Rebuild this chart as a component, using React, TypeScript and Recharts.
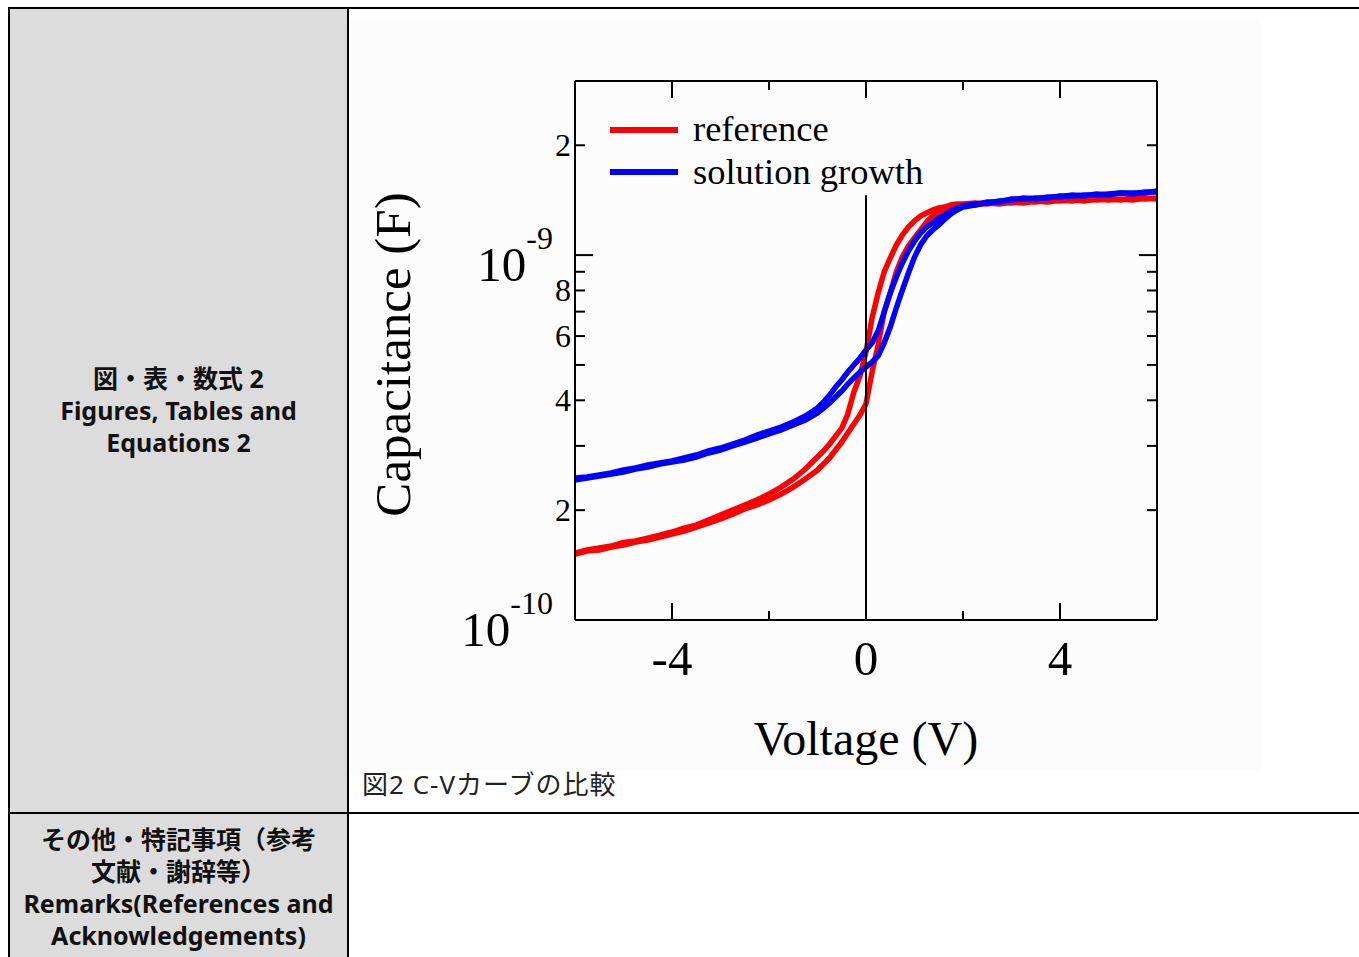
import React from 'react';
import { LineChart, Line, XAxis, YAxis, ReferenceLine, Legend } from 'recharts';

// ---- data (capacitance in pF, voltage in V) ----
const voltages = [
  -6, -5.75, -5.5, -5.25, -5, -4.75, -4.5, -4.25, -4, -3.75, -3.5, -3.25, -3, -2.75, -2.5, -2.25, -2, -1.75, -1.5, -1.25, -1,
  -0.875, -0.75, -0.625, -0.5, -0.375, -0.25, -0.125, 0, 0.125, 0.25, 0.375, 0.5, 0.625, 0.75, 0.875, 1, 1.125, 1.25, 1.375, 1.5, 1.625, 1.75, 1.875, 2,
  2.25, 2.5, 2.75, 3, 3.25, 3.5, 3.75, 4, 4.25, 4.5, 4.75, 5, 5.25, 5.5, 5.75, 6,
];

const referenceSweepAPf = [
  152.6, 155.5, 157.5, 159.5, 163.2, 164.6, 167.7, 170.9, 174.2, 178.6, 182.0, 187.9, 193.9, 200.2, 206.6, 213.2, 221.4, 231.4, 243.4, 259.2, 279.6,
  290.5, 303.6, 319.2, 335.8, 366.8, 421.5, 466.2, 542.5, 672.3, 787.2, 898.8, 981.8, 1065.7, 1135.1, 1194.1, 1240.1, 1279.7, 1304.3, 1329.2, 1346.1, 1354.6, 1371.7, 1380.4, 1380.4,
  1389.2, 1380.5, 1398.1, 1389.2, 1406.9, 1398.1, 1415.8, 1406.9, 1415.8, 1406.9, 1424.7, 1415.8, 1424.7, 1415.8, 1433.7, 1424.7,
];

const referenceSweepBPf = [
  151.6, 154.5, 155.5, 158.5, 160.5, 163.6, 165.6, 168.8, 172.0, 175.3, 179.8, 184.4, 189.1, 195.1, 201.5, 206.6, 213.2, 221.4, 231.4, 243.4, 257.6,
  267.5, 277.9, 292.3, 307.4, 325.4, 344.4, 364.5, 390.7, 478.2, 567.0, 698.3, 787.2, 898.8, 988.1, 1059.0, 1113.9, 1171.6, 1232.2, 1279.7, 1312.6, 1337.6, 1354.6, 1363.1, 1371.7,
  1371.7, 1389.2, 1380.5, 1398.1, 1389.2, 1406.9, 1398.1, 1415.8, 1406.9, 1424.7, 1415.8, 1424.7, 1415.8, 1433.7, 1424.7, 1433.7,
];

const solutionSweepAPf = [
  245.0, 246.5, 249.6, 252.8, 257.6, 260.9, 265.9, 269.3, 272.7, 277.9, 283.2, 290.5, 296.0, 303.6, 311.3, 321.3, 329.5, 337.9, 348.8, 362.2, 380.9,
  395.7, 413.5, 435.0, 454.6, 478.2, 499.8, 522.3, 549.4, 574.2, 619.4, 698.3, 787.2, 871.0, 951.3, 1026.2, 1093.0, 1149.6, 1194.1, 1224.5, 1263.7, 1287.8, 1320.8, 1346.1, 1363.1,
  1380.5, 1389.2, 1406.9, 1415.8, 1433.7, 1424.7, 1442.8, 1442.8, 1461.1, 1451.9, 1470.3, 1461.1, 1479.6, 1470.3, 1489.0, 1489.0,
];

const solutionSweepBPf = [
  241.9, 245.0, 248.0, 251.2, 254.4, 259.2, 262.5, 267.5, 271.0, 274.4, 279.6, 286.9, 292.3, 299.8, 307.4, 315.3, 323.4, 331.6, 342.2, 353.2, 369.2,
  380.9, 393.2, 408.3, 424.1, 443.2, 460.4, 478.2, 493.5, 509.3, 529.0, 574.2, 635.2, 716.2, 802.3, 893.2, 988.1, 1065.7, 1128.0, 1171.6, 1209.3, 1255.8, 1296.1, 1329.2, 1354.6,
  1371.7, 1398.1, 1398.1, 1424.7, 1424.7, 1433.7, 1433.7, 1451.9, 1451.9, 1461.1, 1461.1, 1470.3, 1479.6, 1479.6, 1479.6, 1498.4,
];

const seriesNames = ['reference', 'solution growth'];
const seriesColors = ['#ff0000', '#0000ff'];

const xTicks = [-4, -2, 0, 2, 4];
const xTickLabels = ['-4', '', '0', '', '4'];

const yTicks = [100, 200, 300, 400, 500, 600, 700, 800, 900, 1000, 2000];
const yTickMantissa = ['10', '2', '', '4', '', '6', '', '8', '', '10', '2'];
const yTickExponent = ['-10', '', '', '', '', '', '', '', '', '-9', ''];

const xDomain = [-6, 6];
const yDomain = [100, 3000];
const zeroLineTopPf = 1460;

// ---- styling ----
const SERIF = "'Liberation Serif', 'Times New Roman', Times, serif";
const SANS_JP = "'Noto Sans', 'Noto Sans CJK JP', sans-serif";
const W = 911;
const H = 752;
const MARGIN = { top: 62, right: 103, bottom: 149, left: 224 };
const AXIS_THICK = 1;
const PLOT_H = H - MARGIN.top - MARGIN.bottom - 2 * AXIS_THICK;
const MAJOR = 17;
const MINOR = 9;

const yIndex = (v: number) => yTicks.findIndex((t) => Math.abs(t - v) / t < 1e-6);
const isDecade = (i: number) => yTickExponent[i] !== '';

const BottomTick = (props: any) => {
  const { x, y, payload } = props;
  const i = xTicks.indexOf(payload.value);
  const label = xTickLabels[i];
  const len = label ? MAJOR : MINOR;
  const yTop = y - PLOT_H;
  return (
    <g>
      <line x1={x} y1={y} x2={x} y2={y - len} stroke="#000" strokeWidth={2} />
      <line x1={x} y1={yTop} x2={x} y2={yTop + len} stroke="#000" strokeWidth={2} />
      {label ? (
        <text x={x} y={y + 55} textAnchor="middle" fontSize={49} fontFamily={SERIF} fill="#000">
          {label}
        </text>
      ) : null}
    </g>
  );
};

const LeftTick = (props: any) => {
  const { x, y, payload } = props;
  const i = yIndex(payload.value);
  if (i < 0) return null;
  const len = isDecade(i) ? 18 : 10;
  const m = yTickMantissa[i];
  const e = yTickExponent[i];
  return (
    <g>
      {i > 0 ? <line x1={x} y1={y} x2={x + len} y2={y} stroke="#000" strokeWidth={2} /> : null}
      {e ? (
        <text x={x - 22} y={y + 26} textAnchor="end" fontFamily={SERIF} fill="#000">
          <tspan fontSize={49}>{m}</tspan>
          <tspan fontSize={32} dy={-32}>{e}</tspan>
        </text>
      ) : m ? (
        <text x={x - 4} y={y + 11} textAnchor="end" fontSize={32} fontFamily={SERIF} fill="#000">
          {m}
        </text>
      ) : null}
    </g>
  );
};

const RightTick = (props: any) => {
  const { x, y, payload } = props;
  const i = yIndex(payload.value);
  if (i <= 0) return null;
  const len = isDecade(i) ? 18 : 10;
  return <line x1={x} y1={y} x2={x - len} y2={y} stroke="#000" strokeWidth={2} />;
};

const XTitle = (props: any) => {
  const vb = props.viewBox || {};
  return (
    <text x={vb.x + vb.width / 2} y={vb.y + 135} textAnchor="middle" fontSize={48} fontFamily={SERIF} fill="#000">
      Voltage (V)
    </text>
  );
};

const YTitle = (props: any) => {
  const vb = props.viewBox || {};
  const cx = vb.x + vb.width - 165;
  const cy = vb.y + vb.height / 2 + 4;
  return (
    <text
      transform={`translate(${cx},${cy}) rotate(-90)`}
      x={0}
      y={0}
      textAnchor="middle"
      fontSize={51}
      fontFamily={SERIF}
      fill="#000"
    >
      Capacitance (F)
    </text>
  );
};

const LegendContent = (props: any) => {
  const items = (props.payload || []).filter((p: any) => p.type !== 'none');
  return (
    <svg width={340} height={100} style={{ display: 'block' }}>
      {items.map((p: any, k: number) => (
        <g key={k}>
          <line x1={0} y1={30 + k * 42} x2={68} y2={30 + k * 42} stroke={p.color} strokeWidth={6} />
          <text x={83} y={41 + k * 43} fontSize={36.5} fontFamily={SERIF} fill="#000">
            {p.value}
          </text>
        </g>
      ))}
    </svg>
  );
};

const abs = (s: React.CSSProperties): React.CSSProperties => ({ position: 'absolute', ...s });

export default function App() {
  const data = voltages.map((v, i) => ({
    v,
    refA: referenceSweepAPf[i],
    refB: referenceSweepBPf[i],
    solA: solutionSweepAPf[i],
    solB: solutionSweepBPf[i],
  }));

  const leftText: React.CSSProperties = {
    fontFamily: SANS_JP,
    fontWeight: 700,
    fontSize: 25,
    lineHeight: '32px',
    color: '#111',
    textAlign: 'center',
    width: 337,
    left: 10,
  };

  const lineCommon = { strokeWidth: 5.5, dot: false, type: 'linear' as const, isAnimationActive: false };

  return (
    <div style={abs({ left: 0, top: 0, width: 1359, height: 957, overflow: 'hidden', background: '#fff' })}>
      {/* table cells */}
      <div style={abs({ left: 10, top: 9, width: 337, height: 948, background: '#dcdcdc' })} />
      <div style={abs({ left: 350, top: 18, width: W, height: H, background: '#fcfcfc' })}>
        <LineChart width={W} height={H} data={data} margin={MARGIN}>
          <XAxis
            dataKey="v"
            type="number"
            domain={xDomain}
            ticks={xTicks}
            interval={0}
            allowDataOverflow
            height={AXIS_THICK}
            tickSize={0}
            tickMargin={0}
            tickLine={false}
            axisLine={{ stroke: '#000', strokeWidth: 2 }}
            tick={<BottomTick />}
            label={XTitle}
          />
          <XAxis
            xAxisId="top"
            orientation="top"
            dataKey="v"
            type="number"
            domain={xDomain}
            allowDataOverflow
            height={AXIS_THICK}
            tickLine={false}
            axisLine={{ stroke: '#000', strokeWidth: 2 }}
            tick={false}
          />
          <YAxis
            type="number"
            scale="log"
            domain={yDomain}
            ticks={yTicks}
            interval={0}
            allowDataOverflow
            width={AXIS_THICK}
            tickSize={0}
            tickMargin={0}
            tickLine={false}
            axisLine={{ stroke: '#000', strokeWidth: 2 }}
            tick={<LeftTick />}
            label={YTitle}
          />
          <YAxis
            yAxisId="right"
            orientation="right"
            type="number"
            scale="log"
            domain={yDomain}
            ticks={yTicks}
            interval={0}
            allowDataOverflow
            width={AXIS_THICK}
            tickSize={0}
            tickMargin={0}
            tickLine={false}
            axisLine={{ stroke: '#000', strokeWidth: 2 }}
            tick={<RightTick />}
          />
          <Legend
            layout="horizontal"
            verticalAlign="middle"
            align="center"
            content={<LegendContent />}
            wrapperStyle={{ left: 260, top: 82, width: 340, height: 100 }}
          />
          <Line dataKey="refA" name={seriesNames[0]} stroke={seriesColors[0]} {...lineCommon} />
          <Line dataKey="refB" name={seriesNames[0]} legendType="none" stroke={seriesColors[0]} {...lineCommon} />
          <Line dataKey="solA" name={seriesNames[1]} stroke={seriesColors[1]} {...lineCommon} />
          <Line dataKey="solB" name={seriesNames[1]} legendType="none" stroke={seriesColors[1]} {...lineCommon} />
          <ReferenceLine
            segment={[{ x: 0, y: zeroLineTopPf }, { x: 0, y: yDomain[0] }]}
            stroke="#000"
            strokeWidth={2}
          />
        </LineChart>
      </div>

      {/* borders */}
      <div style={abs({ left: 8, top: 7, width: 1351, height: 2, background: '#000' })} />
      <div style={abs({ left: 8, top: 7, width: 2, height: 950, background: '#000' })} />
      <div style={abs({ left: 347, top: 7, width: 2, height: 950, background: '#000' })} />
      <div style={abs({ left: 8, top: 812, width: 1351, height: 2, background: '#000' })} />

      {/* left column labels */}
      <div style={abs({ ...leftText, top: 362 })}>
        図・表・数式 2<br />Figures, Tables and<br />Equations 2
      </div>
      <div style={abs({ ...leftText, top: 823 })}>
        その他・特記事項（参考<br />文献・謝辞等）<br />Remarks(References and<br />Acknowledgements)
      </div>

      {/* caption */}
      <div
        style={abs({
          left: 362,
          top: 769,
          fontFamily: SANS_JP,
          fontSize: 26,
          letterSpacing: 1,
          lineHeight: '30px',
          color: '#222',
          whiteSpace: 'nowrap',
        })}
      >
        図2 C-Vカーブの比較
      </div>
    </div>
  );
}
